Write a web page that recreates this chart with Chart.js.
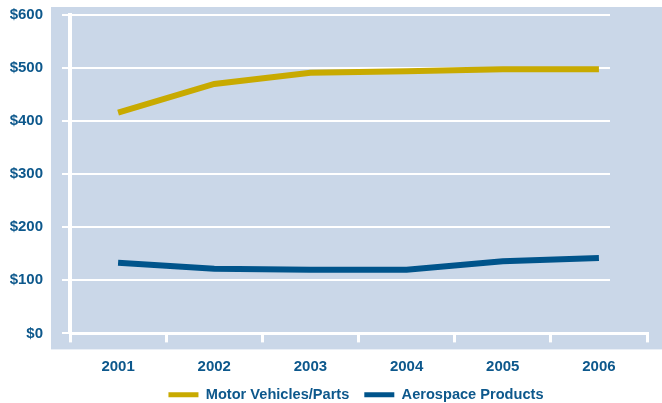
<!DOCTYPE html>
<html><head><meta charset="utf-8">
<script src="https://cdn.jsdelivr.net/npm/chart.js@4"></script>
<style>html,body{margin:0;padding:0;background:#fff}#wrap{width:662px;height:403px}</style>
</head><body><div id="wrap"><canvas id="c" width="662" height="403"></canvas></div>
<script>
const years = ['2001','2002','2003','2004','2005','2006'];
const motorVehicles = [416, 470, 491, 494, 498, 498];
const aerospace = [133, 122, 120, 120, 136, 142];
const yTicks = [0, 100, 200, 300, 400, 500, 600];

const TXT = '#0d588c';
const FONT = {family: '"Liberation Sans", Arial, sans-serif', size: 15, weight: 'bold'};
const LFONT = {family: '"Liberation Sans", Arial, sans-serif', size: 14.6, weight: 'bold'};

const panelPlugin = {
  id: 'panel',
  afterLayout(chart) {
    const a = chart.chartArea;
    const x = chart.scales.x;
    x.bottom = x.top + 50;
    const lg = chart.legend;
    if (lg) {
      const h = lg.bottom - lg.top;
      lg.top = a.bottom + 39;
      lg.bottom = lg.top + h;
      lg.left = a.left - 5;
      lg.width = lg.right - lg.left;
    }
  },
  beforeDraw(chart) {
    const {ctx, chartArea: a} = chart;
    ctx.save();
    ctx.fillStyle = '#cad7e8';
    ctx.fillRect(a.left - 19, a.top - 8, chart.width - (a.left - 19), a.bottom - a.top + 24);
    ctx.restore();
  },
  beforeDatasetsDraw(chart) {
    const {ctx, chartArea: a} = chart;
    const y = chart.scales.y;
    ctx.save();
    ctx.strokeStyle = '#ffffff';
    ctx.lineWidth = 2;
    yTicks.forEach(v => {
      const py = Math.round(y.getPixelForValue(v));
      ctx.beginPath();
      ctx.moveTo(a.left, py);
      ctx.lineTo(a.right - 37, py);
      ctx.stroke();
    });
    ctx.restore();
  }
};

new Chart(document.getElementById('c'), {
  type: 'line',
  data: {
    labels: years,
    datasets: [
      {label: 'Motor Vehicles/Parts', data: motorVehicles, borderColor: '#c8aa00', backgroundColor: '#c8aa00', borderWidth: 6, pointRadius: 0, tension: 0, borderCapStyle: 'butt'},
      {label: 'Aerospace Products', data: aerospace, borderColor: '#00548b', backgroundColor: '#00548b', borderWidth: 6, pointRadius: 0, tension: 0, borderCapStyle: 'butt'}
    ]
  },
  options: {
    responsive: false,
    animation: false,
    layout: {padding: {top: 15, right: 15, left: 0, bottom: 0}},
    plugins: {
      tooltip: {enabled: false},
      legend: {
        position: 'bottom',
        labels: {
          boxWidth: 30, boxHeight: 5, padding: 15, color: TXT, font: LFONT,
          generateLabels(chart) {
            return chart.data.datasets.map((d, i) => ({
              text: d.label, fillStyle: d.borderColor, strokeStyle: d.borderColor,
              lineWidth: 0, hidden: false, datasetIndex: i, fontColor: TXT
            }));
          }
        }
      }
    },
    scales: {
      x: {
        type: 'category',
        offset: true,
        grid: {offset: true, drawOnChartArea: false, drawTicks: true, tickLength: 9, color: '#ffffff', lineWidth: 3},
        border: {color: '#ffffff', width: 3},
        ticks: {color: TXT, font: FONT, padding: 15, maxRotation: 0},
        afterFit(s) { s.height = 30; s.paddingLeft = 0; s.paddingRight = 0; }
      },
      y: {
        min: 0, max: 600,
        afterBuildTicks(s) { s.ticks = yTicks.map(v => ({value: v})); },
        grid: {drawOnChartArea: false, drawTicks: true, tickLength: 8, color: '#ffffff', lineWidth: 2},
        border: {color: '#ffffff', width: 4},
        ticks: {color: TXT, font: FONT, padding: 19, callback: v => '$' + v},
        afterFit(s) { s.width = 70; s.paddingTop = 0; s.paddingBottom = 0; }
      }
    }
  },
  plugins: [panelPlugin]
});
</script>
</body></html>
